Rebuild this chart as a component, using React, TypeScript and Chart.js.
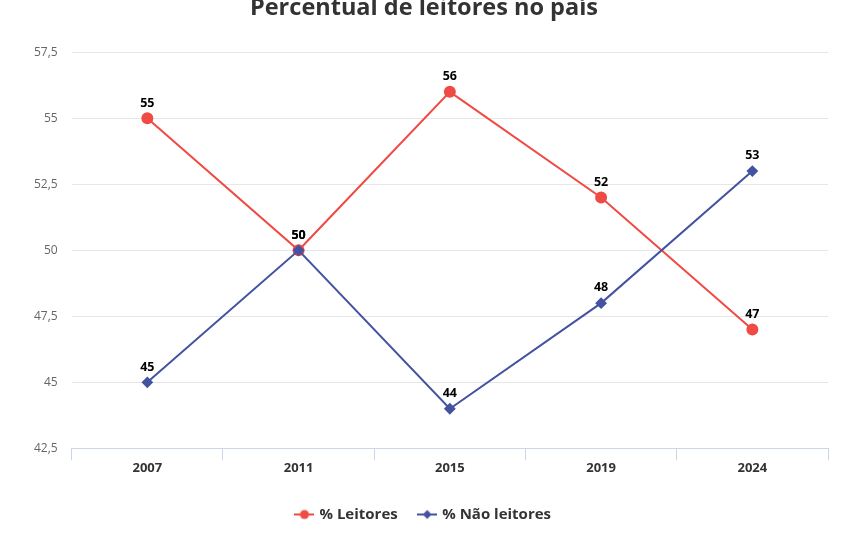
import { useEffect, useRef } from 'react'
import { Chart, registerables } from 'chart.js'

Chart.register(...registerables)

const years = ['2007', '2011', '2015', '2019', '2024']
const leitores = [55, 50, 56, 52, 47]
const naoLeitores = [45, 50, 44, 48, 53]
const yTicks = [42.5, 45, 47.5, 50, 52.5, 55, 57.5]

const RED = '#ef4b44'
const BLUE = '#4353a0'
const FONT = "'Open Sans', 'Noto Sans', sans-serif"

function legendIcon(color: string, shape: 'circle' | 'diamond') {
  const c = document.createElement('canvas')
  c.width = 20
  c.height = 12
  const ctx = c.getContext('2d')!
  ctx.strokeStyle = color
  ctx.fillStyle = color
  ctx.lineWidth = 2
  ctx.beginPath()
  ctx.moveTo(0, 6)
  ctx.lineTo(20, 6)
  ctx.stroke()
  ctx.beginPath()
  if (shape === 'circle') {
    ctx.arc(10, 6, 4.5, 0, Math.PI * 2)
  } else {
    ctx.moveTo(10, 1.5)
    ctx.lineTo(14.5, 6)
    ctx.lineTo(10, 10.5)
    ctx.lineTo(5.5, 6)
    ctx.closePath()
  }
  ctx.fill()
  return c
}

// numbers above each point (no datalabels plugin available)
const valueLabels = {
  id: 'valueLabels',
  afterDatasetsDraw(chart: any) {
    const ctx = chart.ctx
    ctx.save()
    ctx.font = `bold 12.5px ${FONT}`
    ctx.fillStyle = '#000'
    ctx.textAlign = 'center'
    ctx.textBaseline = 'bottom'
    chart.data.datasets.forEach((ds: any, i: number) => {
      const meta = chart.getDatasetMeta(i)
      meta.data.forEach((pt: any, j: number) => {
        ctx.fillText(String(ds.data[j]), pt.x, pt.y - 9)
      })
    })
    ctx.restore()
  },
}

export default function App() {
  const canvasRef = useRef<HTMLCanvasElement>(null)
  const chartRef = useRef<any>(null)

  useEffect(() => {
    document.body.style.margin = '0'
    if (!canvasRef.current) return
    if (chartRef.current) chartRef.current.destroy()

    const icons = [legendIcon(RED, 'circle'), legendIcon(BLUE, 'diamond')]

    chartRef.current = new Chart(canvasRef.current, {
      type: 'line',
      data: {
        labels: years,
        datasets: [
          {
            label: '% Leitores',
            data: leitores,
            borderColor: RED,
            backgroundColor: RED,
            borderWidth: 2,
            pointStyle: 'circle',
            pointRadius: 5,
            pointHoverRadius: 5,
            order: 2,
          },
          {
            label: '% Não leitores',
            data: naoLeitores,
            borderColor: BLUE,
            backgroundColor: BLUE,
            borderWidth: 2,
            pointStyle: 'rectRot',
            pointRadius: 4.5,
            pointHoverRadius: 4.5,
            order: 1,
          },
        ],
      },
      options: {
        responsive: true,
        maintainAspectRatio: false,
        animation: false,
        layout: { padding: { top: -6, left: 20, right: 23, bottom: 8 } },
        plugins: {
          title: {
            display: true,
            text: 'Percentual de leitores no país',
            color: '#333333',
            font: { family: FONT, size: 23.5, weight: 'bold' },
            padding: { top: 0, bottom: 30 },
          },
          legend: {
            position: 'bottom',
            labels: {
              color: '#333333',
              font: { family: FONT, size: 15, weight: 'bold' },
              usePointStyle: true,
              padding: 22,
              sort: (a: any, b: any) => a.datasetIndex - b.datasetIndex,
              generateLabels: (chart: any) =>
                Chart.defaults.plugins.legend.labels.generateLabels(chart).map((l: any) => ({
                  ...l,
                  pointStyle: icons[l.datasetIndex],
                })),
            },
          },
          tooltip: { enabled: false },
        },
        scales: {
          x: {
            offset: true,
            grid: {
              offset: true,
              drawOnChartArea: false,
              drawTicks: true,
              tickLength: 12,
              color: '#ccd6eb',
            },
            border: { color: '#ccd6eb' },
            ticks: {
              color: '#333333',
              font: { family: FONT, size: 13, weight: 'bold' },
              padding: 0,
            },
            afterFit: (scale: any) => {
              scale.height += 9
            },
          },
          y: {
            min: 42.5,
            max: 57.5,
            afterBuildTicks: (axis: any) => {
              axis.ticks = yTicks.map(v => ({ value: v }))
            },
            grid: { color: '#e6e6e6', drawTicks: false },
            border: { display: false },
            ticks: {
              color: '#666666',
              font: { family: FONT, size: 12 },
              padding: 14,
              callback: (v: string | number) => String(v).replace('.', ','),
            },
          },
        },
      },
      plugins: [valueLabels],
    })

    return () => {
      if (chartRef.current) chartRef.current.destroy()
    }
  }, [])

  return (
    <div style={{ width: 851, height: 540 }}>
      <canvas ref={canvasRef} />
    </div>
  )
}
